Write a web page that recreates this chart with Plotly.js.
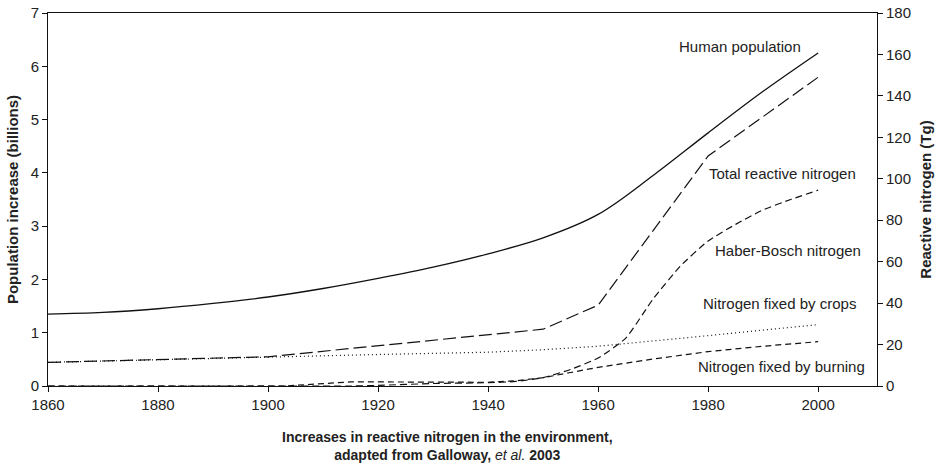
<!DOCTYPE html>
<html>
<head>
<meta charset="utf-8">
<script src="https://cdn.plot.ly/plotly-3.0.1.min.js"></script>
<style>html,body{margin:0;padding:0;background:#fff;}#chart{width:947px;height:464px;}</style>
</head>
<body>
<div id="chart"></div>
<script>
// ---- Data ----
const popYears = [1860,1870,1880,1890,1900,1910,1920,1930,1940,1950,1960,1970,1980,1990,2000];
const population = [1.35,1.38,1.45,1.55,1.67,1.83,2.02,2.23,2.48,2.78,3.22,3.95,4.75,5.53,6.25]; // billions

const totalYears = [1860,1880,1900,1950,1960,1970,1980,1990,2000];
const totalN = [11.4,12.6,14.1,27.4,39,75,111,130,149]; // Tg

const haberYears = [1860,1915,1920,1930,1940,1945,1950,1955,1960,1965,1970,1975,1980,1985,1990,1995,2000];
const haberN = [0,0,0.3,1.2,1.6,2.2,4,8,13.5,23,42,58,70,78,85,90,94.5];

const cropYears = [1860,1900,1920,1940,1950,1960,1970,1980,1990,2000];
const cropN = [11.4,14.1,15.2,16.3,17.5,19.2,21.6,24.3,27,29.6];

const burnYears = [1860,1903,1915,1940,1945,1950,1955,1960,1970,1980,1990,2000];
const burnN = [0,0,2,1.8,2.5,4,6.5,9,13,16.6,19.2,21.4];

const xTicks = [1860,1880,1900,1920,1940,1960,1980,2000];
const yTicks = [0,1,2,3,4,5,6,7];
const y2Ticks = [0,20,40,60,80,100,120,140,160,180];

const labels = ["Human population","Total reactive nitrogen","Haber-Bosch nitrogen","Nitrogen fixed by crops","Nitrogen fixed by burning"];

const FONT = "'Liberation Sans', Arial, Helvetica, sans-serif";
const TXT = "#222";

const traces = [
  {x: popYears, y: population, type:'scatter', mode:'lines', yaxis:'y',
   line:{color:'#111', width:1.3, shape:'spline', smoothing:1.0}, name:labels[0]},
  {x: totalYears, y: totalN, type:'scatter', mode:'lines', yaxis:'y2',
   line:{color:'#111', width:1.2, dash:'13px,5px'}, name:labels[1]},
  {x: haberYears, y: haberN, type:'scatter', mode:'lines', yaxis:'y2',
   line:{color:'#111', width:1.2, dash:'7px,4px', shape:'spline', smoothing:0.5}, name:labels[2]},
  {x: cropYears, y: cropN, type:'scatter', mode:'lines', yaxis:'y2',
   line:{color:'#111', width:1.2, dash:'1px,3px'}, name:labels[3]},
  {x: burnYears, y: burnN, type:'scatter', mode:'lines', yaxis:'y2',
   line:{color:'#111', width:1.2, dash:'6px,4px'}, name:labels[4]}
];

const annFont = {family: FONT, size: 15, color: TXT};
const layout = {
  width: 947, height: 464,
  margin: {l:48, r:70, t:13, b:78},
  paper_bgcolor:'#fff', plot_bgcolor:'#fff',
  showlegend: false,
  font: {family: FONT, size: 15, color: TXT},
  xaxis: {
    range:[1860, 2010.7], tickvals: xTicks, ticktext: xTicks.map(String),
    showgrid:false, zeroline:false, showline:true, linecolor:'#111', linewidth:1,
    mirror:true, ticks:'outside', ticklen:5, tickcolor:'#111',
    tickfont:{family:FONT, size:15, color:TXT}
  },
  yaxis: {
    range:[0,7], tickvals: yTicks, showgrid:false, zeroline:false,
    showline:true, linecolor:'#111', linewidth:1, ticks:'outside', ticklen:5, tickcolor:'#111',
    tickfont:{family:FONT, size:15, color:TXT},
    title:{text:'<b>Population increase (billions)</b>', font:{family:FONT, size:15, color:TXT}, standoff:8}
  },
  yaxis2: {
    range:[0,180], tickvals: y2Ticks, overlaying:'y', side:'right', showgrid:false, zeroline:false,
    showline:true, linecolor:'#111', linewidth:1, ticks:'outside', ticklen:5, tickcolor:'#111',
    tickfont:{family:FONT, size:15, color:TXT},
    title:{text:'<b>Reactive nitrogen (Tg)</b>', font:{family:FONT, size:15, color:TXT}, standoff:10}
  },
  annotations: [
    {text:labels[0], x:1997.3, y:6.38, xref:'x', yref:'y', xanchor:'right', yanchor:'middle', showarrow:false, font:annFont},
    {text:labels[1], x:2007.3, y:3.99, xref:'x', yref:'y', xanchor:'right', yanchor:'middle', showarrow:false, font:annFont},
    {text:labels[2], x:2008.2, y:2.55, xref:'x', yref:'y', xanchor:'right', yanchor:'middle', showarrow:false, font:annFont},
    {text:labels[3], x:2007.3, y:1.54, xref:'x', yref:'y', xanchor:'right', yanchor:'middle', showarrow:false, font:annFont},
    {text:labels[4], x:2008.9, y:0.375, xref:'x', yref:'y', xanchor:'right', yanchor:'middle', showarrow:false, font:annFont},
    {text:'<b>Increases in reactive nitrogen in the environment,</b><br><b>adapted from Galloway, </b><i>et al.</i><b> 2003</b>',
     x:0.4825, y:-0.161, xref:'paper', yref:'paper', xanchor:'center', yanchor:'middle', showarrow:false,
     font:{family:FONT, size:14, color:TXT}}
  ]
};

Plotly.newPlot('chart', traces, layout, {displayModeBar:false, staticPlot:true});
</script>
</body>
</html>
